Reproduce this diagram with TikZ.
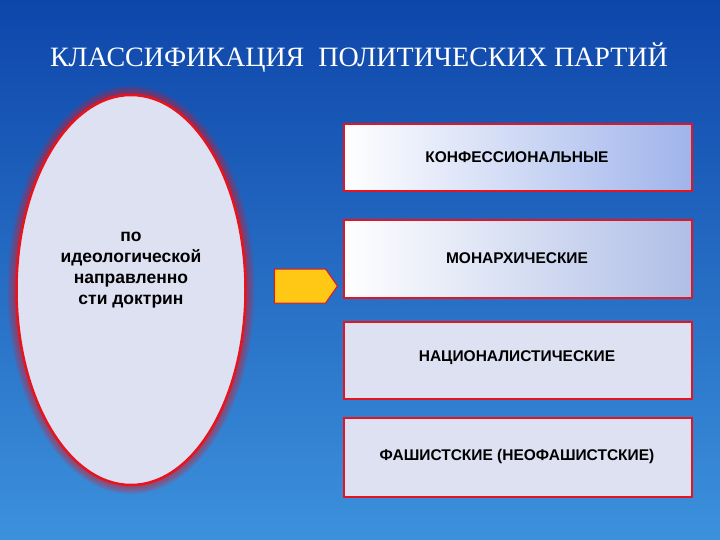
\documentclass[tikz,border=0pt]{standalone}
\usepackage{fontspec}
\setmainfont{Liberation Sans}
\newfontfamily\titlefont{Liberation Serif}
\usetikzlibrary{shapes.geometric,shapes.arrows}
\begin{document}
\begin{tikzpicture}[x=1pt,y=-1pt,
  catbox/.style={draw={rgb,255:red,230;green,20;blue,30},line width=1.6pt,minimum width=348pt,anchor=north west},
  cattext/.style={font=\bfseries\fontsize{15.5}{18}\selectfont},
  glow/.style={fill={rgb,255:red,230;green,20;blue,30},fill opacity=0.12},
]
\useasboundingbox (0,0) rectangle (720,540);
\shade[top color={rgb,255:red,14;green,70;blue,170},bottom color={rgb,255:red,60;green,145;blue,220}] (0,0) rectangle (720,540);
\node[text=white,font=\titlefont\fontsize{28}{32}\selectfont] (title) at (359,58) {КЛАССИФИКАЦИЯ\ \ ПОЛИТИЧЕСКИХ ПАРТИЙ};
\foreach \g in {1,...,6} {\fill[glow] (131,290) ellipse ({114.5+1.5*\g} and {195+1.5*\g});}
\node[ellipse,draw={rgb,255:red,230;green,20;blue,30},line width=2.5pt,fill={rgb,255:red,222;green,225;blue,242},
  minimum width=229pt,minimum height=390pt] (ell) at (131,290) {};
\node[align=center,font=\bfseries\fontsize{17.5}{21}\selectfont] (elltext) at (131,270) {по\\идеологической\\направленно\\сти доктрин};
\node[single arrow,draw={rgb,255:red,230;green,20;blue,30},line width=1pt,fill={rgb,255:red,255;green,200;blue,20},
  minimum height=63pt,minimum width=34pt,single arrow head extend=0pt,single arrow tip angle=110] (arr) at (300,286) {};
\node[catbox,minimum height=67pt,left color=white,right color={rgb,255:red,160;green,180;blue,235}] (b1) at (343,123) {};
\node[cattext] (t1) at (517,157) {КОНФЕССИОНАЛЬНЫЕ};
\node[catbox,minimum height=78pt,left color=white,right color={rgb,255:red,175;green,190;blue,230}] (b2) at (343,219) {};
\node[cattext] (t2) at (517,258) {МОНАРХИЧЕСКИЕ};
\node[catbox,minimum height=77pt,fill={rgb,255:red,222;green,225;blue,242}] (b3) at (343,321) {};
\node[cattext] (t3) at (517,358) {НАЦИОНАЛИСТИЧЕСКИЕ};
\node[catbox,minimum height=79pt,fill={rgb,255:red,222;green,225;blue,242}] (b4) at (343,417) {};
\node[cattext] (t4) at (517,456) {ФАШИСТСКИЕ (НЕОФАШИСТСКИЕ)};
\end{tikzpicture}
\end{document}
